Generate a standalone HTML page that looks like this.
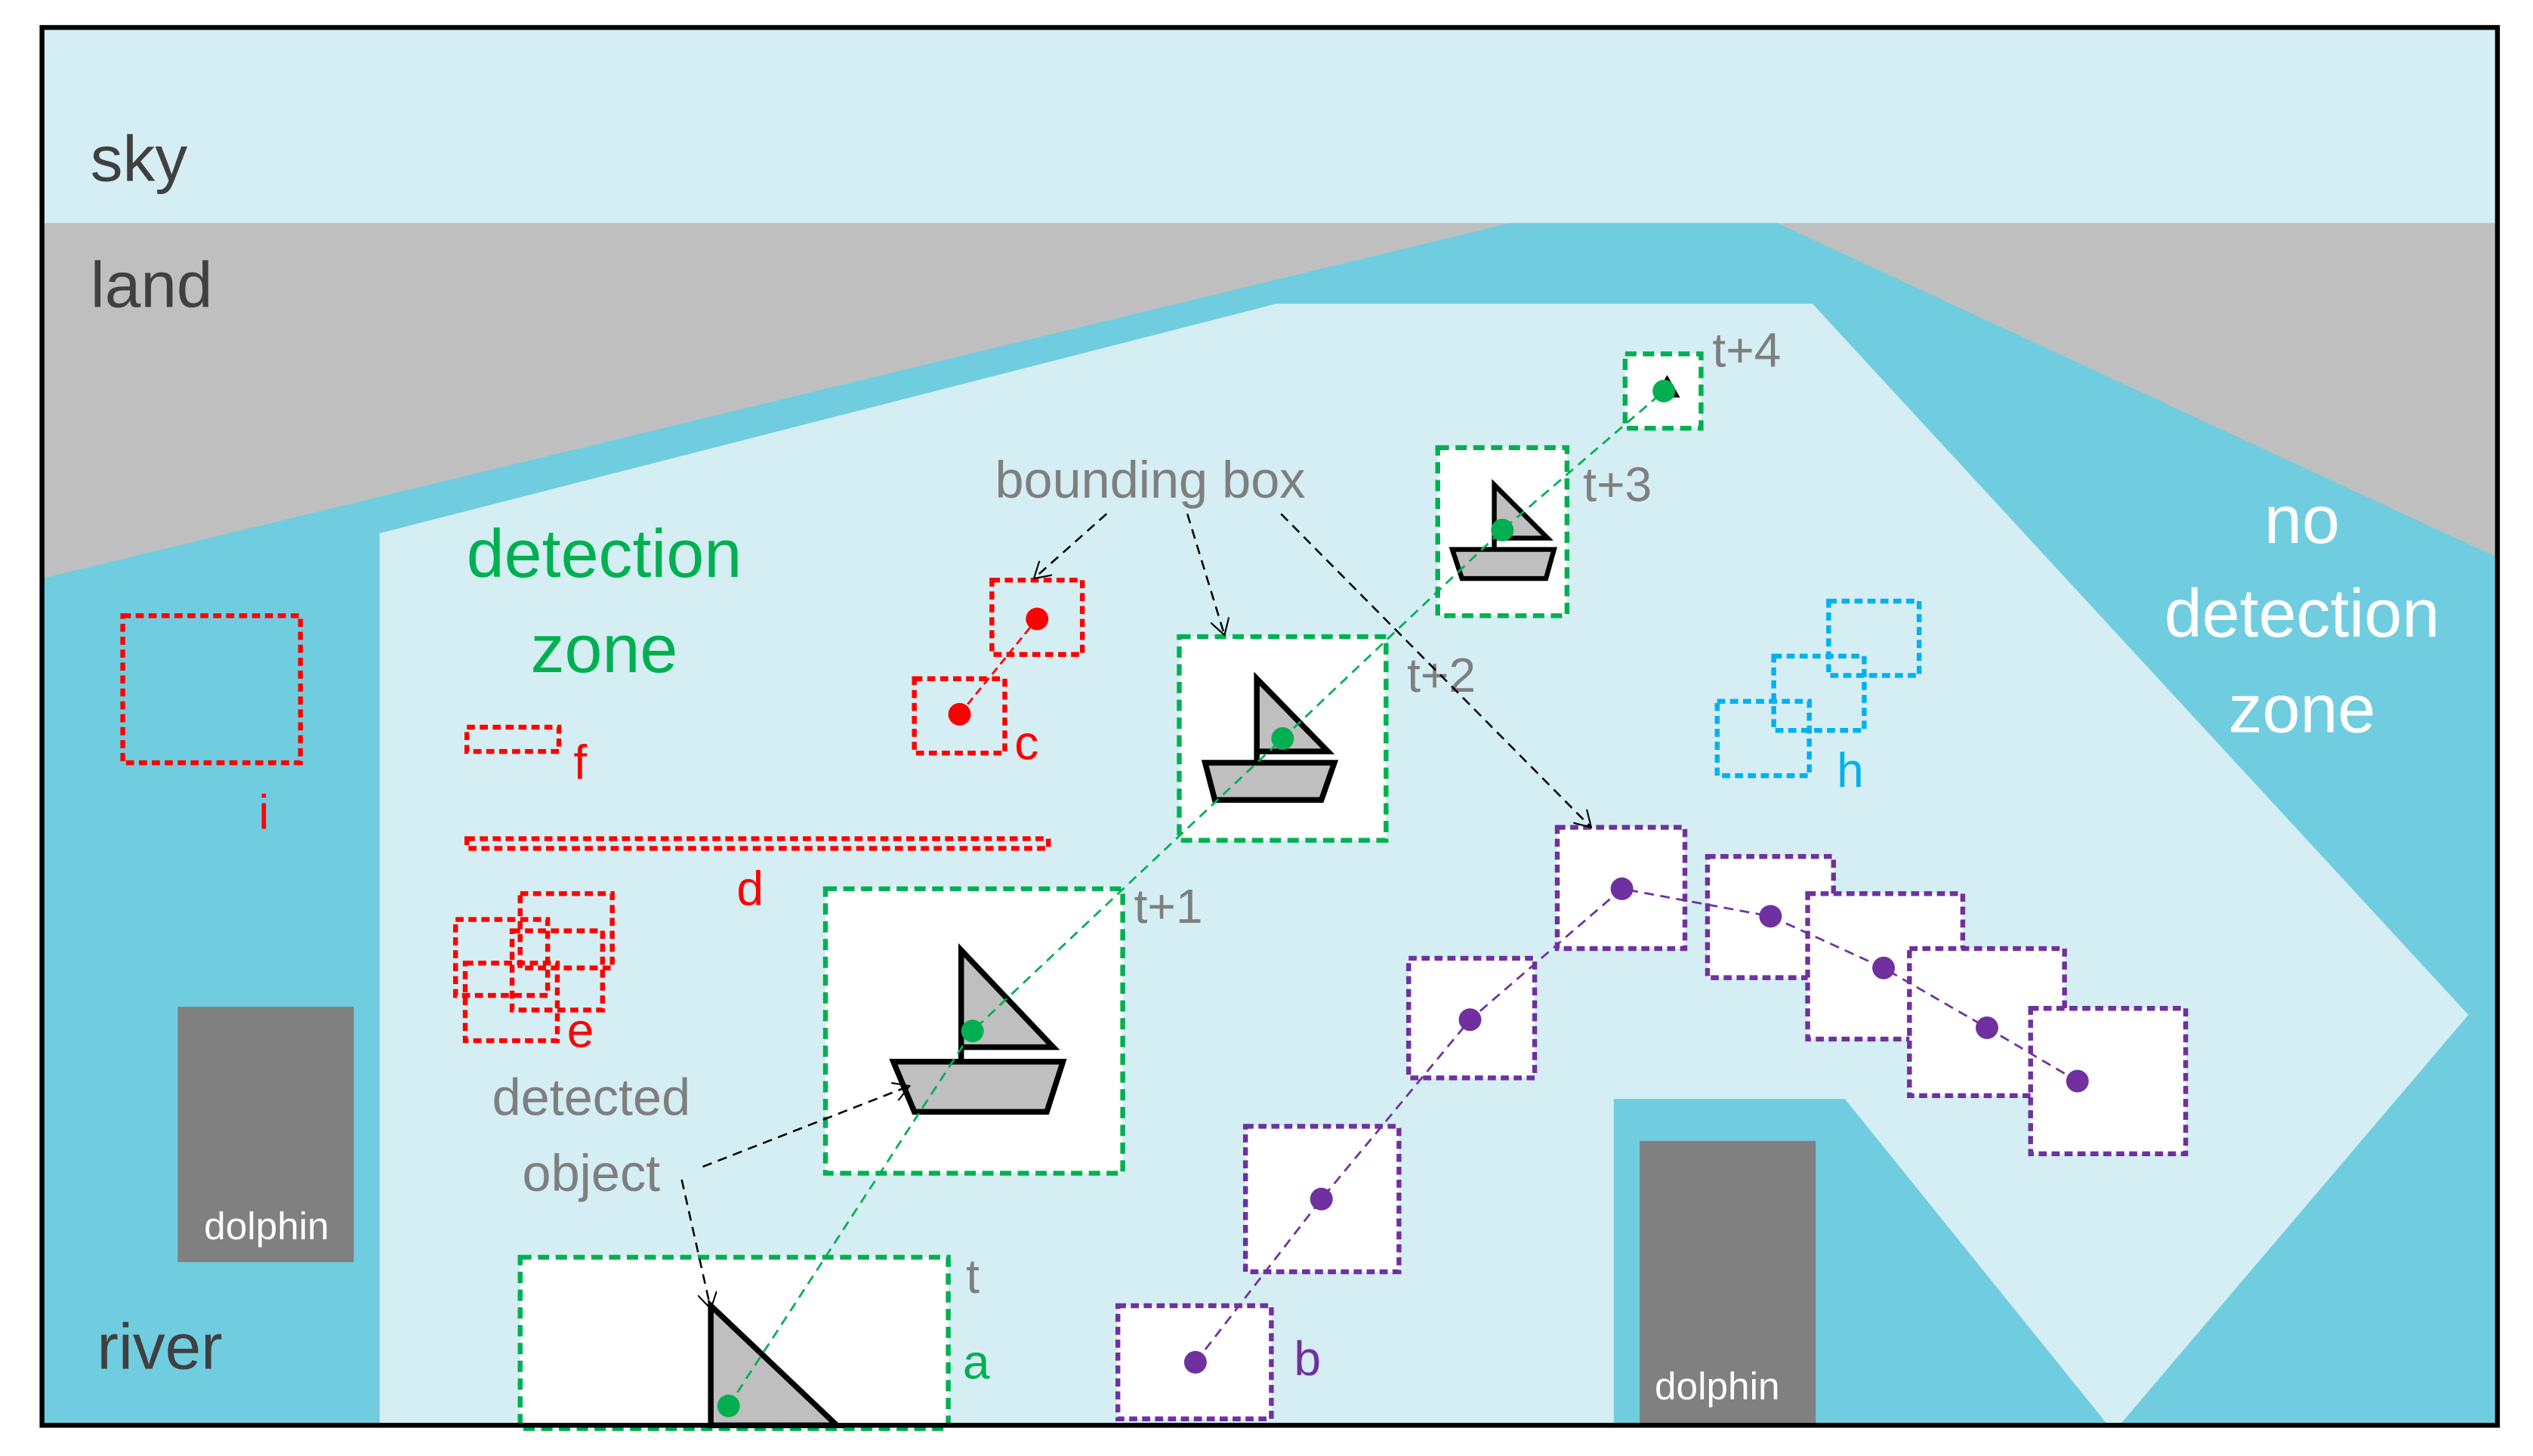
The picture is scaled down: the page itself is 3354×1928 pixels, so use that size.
<!DOCTYPE html>
<html><head><meta charset="utf-8"><style>
html,body{margin:0;padding:0;background:#fff;}
svg{display:block;}
text{font-family:"Liberation Sans",sans-serif;}
</style></head><body>
<svg width="3354" height="1928" viewBox="0 0 1568 901" preserveAspectRatio="none" xmlns="http://www.w3.org/2000/svg">
<defs>
<marker id="ar" markerWidth="12" markerHeight="12" refX="10" refY="6" orient="auto" markerUnits="userSpaceOnUse">
<path d="M0,0 L10,6 L0,12" fill="none" stroke="#000" stroke-width="1"/>
</marker>
<marker id="ag" markerWidth="12" markerHeight="12" refX="10" refY="6" orient="auto" markerUnits="userSpaceOnUse">
<path d="M0,0 L10,6 L0,12" fill="none" stroke="#00b050" stroke-width="1"/>
</marker>
<marker id="ap" markerWidth="12" markerHeight="12" refX="10" refY="6" orient="auto" markerUnits="userSpaceOnUse">
<path d="M0,0 L10,6 L0,12" fill="none" stroke="#7030a0" stroke-width="1"/>
</marker>
</defs>
<rect x="0" y="0" width="1568" height="901" fill="#fff"/>
<rect x="26" y="17" width="1520" height="865" fill="#d4eef3"/>
<rect x="26" y="138" width="1520" height="744" fill="#bfbfbf"/>
<polygon points="26,358 935,138 1100,138 1546,345 1546,882 26,882" fill="#70cde0"/>
<polygon points="235,330 790,188 1122,188 1528,628 1312,882 1305,882 1142,680 999,680 999,882 235,882" fill="#d4eef3"/>
<rect x="110" y="623" width="109" height="158" fill="#808080"/>
<text x="165" y="767" font-size="24" fill="#fff" text-anchor="middle">dolphin</text>
<rect x="1015" y="706" width="109" height="176" fill="#808080"/>
<text x="1063" y="866" font-size="24" fill="#fff" text-anchor="middle">dolphin</text>
<text x="56" y="112" font-size="40" fill="#404040">sky</text>
<text x="56" y="190" font-size="40" fill="#404040">land</text>
<text x="60" y="847" font-size="40" fill="#404040">river</text>
<text x="374" y="357" font-size="42" fill="#00b050" text-anchor="middle">detection</text>
<text x="374" y="416" font-size="42" fill="#00b050" text-anchor="middle">zone</text>
<text x="1425" y="336" font-size="42" fill="#fff" text-anchor="middle">no</text>
<text x="1425" y="394" font-size="42" fill="#fff" text-anchor="middle">detection</text>
<text x="1425" y="453" font-size="42" fill="#fff" text-anchor="middle">zone</text>
<!-- green boxes -->
<g stroke="#00b050" stroke-width="3" stroke-dasharray="7,4" fill="#fff">
<rect x="322" y="778" width="265" height="106"/>
<rect x="511" y="550" width="184" height="176"/>
<rect x="730" y="394" width="128" height="126"/>
<rect x="890" y="277" width="80" height="104"/>
<rect x="1006" y="219" width="47" height="46"/>
</g>
<!-- boats -->
<g stroke="#000" stroke-width="3.5" fill="#bfbfbf" stroke-linejoin="miter">
<polygon points="440,808 440,882 518,882"/>
<polygon points="595,588 595,648 652,648"/>
<line x1="595" y1="648" x2="595" y2="657"/>
<polygon points="553,657 658,657 648,688 566,688"/>
<polygon points="778,420 778,465 822,465"/>
<line x1="778" y1="465" x2="778" y2="472"/>
<polygon points="746,472 826,472 818,495 752,495"/>
<polygon points="925,300 925,333 958,333" stroke-width="3"/>
<line x1="925" y1="333" x2="925" y2="340" stroke-width="3"/>
<polygon points="899,340 962,340 957,358 905,358" stroke-width="3"/>
</g>
<polygon points="1024,246 1032,232 1040,246" fill="#000"/>
<!-- green trajectory -->
<polyline points="451,870 602,638 794,457 930,328 1030,242" fill="none" stroke="#00b050" stroke-width="1.3" stroke-dasharray="6,4"/>
<g fill="#00b050">
<circle cx="451" cy="870" r="7"/><circle cx="602" cy="638" r="7"/><circle cx="794" cy="457" r="7"/><circle cx="930" cy="328" r="7"/><circle cx="1030" cy="242" r="7"/>
</g>
<g font-size="30" fill="#7f7f7f">
<text x="598" y="800">t</text>
<text x="702" y="571">t+1</text>
<text x="871" y="428">t+2</text>
<text x="980" y="310">t+3</text>
<text x="1060" y="227">t+4</text>
<text x="712" y="308" font-size="32" text-anchor="middle">bounding box</text>
<text x="366" y="690" font-size="32" text-anchor="middle">detected</text>
<text x="366" y="737" font-size="32" text-anchor="middle">object</text>
</g>
<text x="596" y="853" font-size="30" fill="#00b050">a</text>
<!-- red -->
<g stroke="#ff0000" stroke-width="3" stroke-dasharray="5,3" fill="none">
<rect x="76" y="381" width="110" height="91"/>
<rect x="289" y="450" width="57" height="15"/>
<rect x="289" y="519" width="360" height="6"/>
<rect x="322" y="553" width="57" height="46"/>
<rect x="282" y="569" width="57" height="47"/>
<rect x="288" y="596" width="57" height="48"/>
<rect x="317" y="576" width="56" height="49"/>
<rect x="614" y="359" width="56" height="46"/>
<rect x="566" y="420" width="56" height="46"/>
</g>
<line x1="594" y1="442" x2="642" y2="383" stroke="#ff0000" stroke-width="1.3" stroke-dasharray="5,3"/>
<circle cx="642" cy="383" r="7" fill="#ff0000"/><circle cx="594" cy="442" r="7" fill="#ff0000"/>
<g font-size="30" fill="#ff0000">
<text x="355" y="482">f</text><text x="160" y="513">i</text><text x="456" y="560">d</text><text x="351" y="648">e</text><text x="628" y="470">c</text>
</g>
<!-- blue -->
<g stroke="#00b0f0" stroke-width="3" stroke-dasharray="5,3" fill="none">
<rect x="1132" y="372" width="56" height="46"/>
<rect x="1098" y="406" width="56" height="46"/>
<rect x="1063" y="434" width="57" height="46"/>
</g>
<text x="1137" y="487" font-size="30" fill="#00b0f0">h</text>
<!-- purple -->
<g stroke="#7030a0" stroke-width="3" stroke-dasharray="5,3" fill="#fff">
<rect x="692" y="808" width="95" height="70"/>
<rect x="771" y="697" width="95" height="90"/>
<rect x="872" y="593" width="78" height="74"/>
<rect x="964" y="512" width="79" height="75"/>
<rect x="1057" y="530" width="78" height="75"/>
<rect x="1119" y="553" width="96" height="90"/>
<rect x="1182" y="587" width="96" height="91"/>
<rect x="1257" y="624" width="96" height="90"/>
</g>
<polyline points="740,843 818,742 910,631 1004,550 1096,567 1166,599 1230,636 1286,669" fill="none" stroke="#7030a0" stroke-width="1.3" stroke-dasharray="6,4"/>
<g fill="#7030a0">
<circle cx="740" cy="843" r="7"/><circle cx="818" cy="742" r="7"/><circle cx="910" cy="631" r="7"/><circle cx="1004" cy="550" r="7"/><circle cx="1096" cy="567" r="7"/><circle cx="1166" cy="599" r="7"/><circle cx="1230" cy="636" r="7"/><circle cx="1286" cy="669" r="7"/>
</g>
<text x="801" y="851" font-size="30" fill="#7030a0">b</text>
<!-- black dashed arrows -->
<g stroke="#000" stroke-width="1.2" stroke-dasharray="6,4" fill="none" marker-end="url(#ar)">
<line x1="685" y1="318" x2="640" y2="358"/>
<line x1="735" y1="318" x2="758" y2="393"/>
<line x1="793" y1="318" x2="985" y2="512"/>
<line x1="435" y1="722" x2="563" y2="672"/>
<line x1="422" y1="730" x2="440" y2="810"/>
</g>
<rect x="26" y="17" width="1520" height="865" fill="none" stroke="#000" stroke-width="3"/>
</svg>
</body></html>
